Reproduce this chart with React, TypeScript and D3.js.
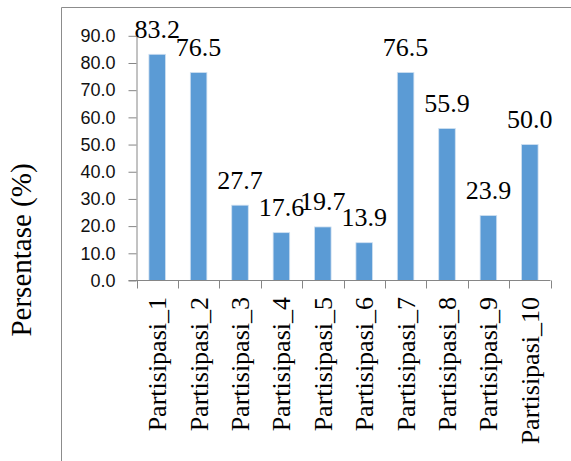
import React, { useEffect, useRef } from 'react';
import * as d3 from 'd3';

const categories = [
  'Partisipasi_1', 'Partisipasi_2', 'Partisipasi_3', 'Partisipasi_4', 'Partisipasi_5',
  'Partisipasi_6', 'Partisipasi_7', 'Partisipasi_8', 'Partisipasi_9', 'Partisipasi_10',
];
const values = [83.2, 76.5, 27.7, 17.6, 19.7, 13.9, 76.5, 55.9, 23.9, 50.0];
const yTicks = [0, 10, 20, 30, 40, 50, 60, 70, 80, 90];
const yTitle = 'Persentase (%)';

const serif = 'Liberation Serif, DejaVu Serif, serif';
const sans = 'Liberation Sans, Arial, sans-serif';

export default function App() {
  const ref = useRef<SVGSVGElement>(null);

  useEffect(() => {
    const width = 571;
    const height = 461;
    const left = 136.5;
    const right = 550.5;
    const bottom = 280.5;
    const top = 35.8;

    const svg = d3.select(ref.current);
    svg.selectAll('*').remove();
    svg.attr('width', width).attr('height', height);

    // outer chart border (clipped at right/bottom)
    svg.append('path')
      .attr('d', `M61.5,${height}V7.5H${width}`)
      .attr('fill', 'none')
      .attr('stroke', '#8c8c8c')
      .attr('stroke-width', 1);

    const y = d3.scaleLinear().domain([0, 90]).range([bottom, top]);
    const x = d3.scaleBand()
      .domain(categories)
      .range([left, right])
      .paddingInner(0.6)
      .paddingOuter(0.3);

    // y axis
    const yAxis = svg.append('g')
      .attr('transform', `translate(${left},0)`)
      .call(d3.axisLeft(y).tickValues(yTicks).tickFormat(d3.format('.1f')).tickSize(8).tickSizeOuter(0).tickPadding(13));
    yAxis.attr('font-family', sans).attr('font-size', 18);
    yAxis.select('.domain').attr('stroke', '#868686');
    yAxis.selectAll('.tick line').attr('stroke', '#868686');
    yAxis.selectAll('.tick text').attr('fill', '#111');

    // bars
    svg.selectAll('.bar')
      .data(values)
      .enter()
      .append('rect')
      .attr('class', 'bar')
      .attr('x', (d, i) => x(categories[i]))
      .attr('y', (d) => y(d))
      .attr('width', x.bandwidth())
      .attr('height', (d) => bottom - y(d))
      .attr('fill', '#5b9bd5')
      .attr('stroke', '#cfe0f1')
      .attr('stroke-width', 0.8);

    // x axis line + boundary ticks
    svg.append('line')
      .attr('x1', left - 8).attr('x2', right)
      .attr('y1', bottom).attr('y2', bottom)
      .attr('stroke', '#868686');
    svg.selectAll('.xtick')
      .data(d3.range(categories.length + 1))
      .enter()
      .append('line')
      .attr('x1', (i) => Math.round(left + i * x.step()) + 0.5)
      .attr('x2', (i) => Math.round(left + i * x.step()) + 0.5)
      .attr('y1', bottom).attr('y2', bottom + 8)
      .attr('stroke', '#868686');

    // category labels
    svg.selectAll('.xlabel')
      .data(categories)
      .enter()
      .append('text')
      .attr('transform', (d) => `translate(${x(d) + x.bandwidth() / 2 + 9},297) rotate(-90)`)
      .attr('text-anchor', 'end')
      .attr('font-family', serif)
      .attr('font-size', 26)
      .attr('fill', '#000')
      .text((d) => d);

    // data labels
    svg.selectAll('.vlabel')
      .data(values)
      .enter()
      .append('text')
      .attr('x', (d, i) => x(categories[i]) + x.bandwidth() / 2)
      .attr('y', (d) => y(d) - 16.5)
      .attr('text-anchor', 'middle')
      .attr('font-family', serif)
      .attr('font-size', 26)
      .attr('fill', '#000')
      .text((d) => d.toFixed(1));

    // y title
    svg.append('text')
      .attr('transform', 'translate(31,250) rotate(-90)')
      .attr('text-anchor', 'middle')
      .attr('font-family', serif)
      .attr('font-size', 29)
      .attr('fill', '#000')
      .text(yTitle);
  }, []);

  return (
    <div id='chartArea' style={{ position: 'absolute', left: 0, top: 0 }}>
      <svg ref={ref} style={{ display: 'block' }}></svg>
    </div>
  );
}
